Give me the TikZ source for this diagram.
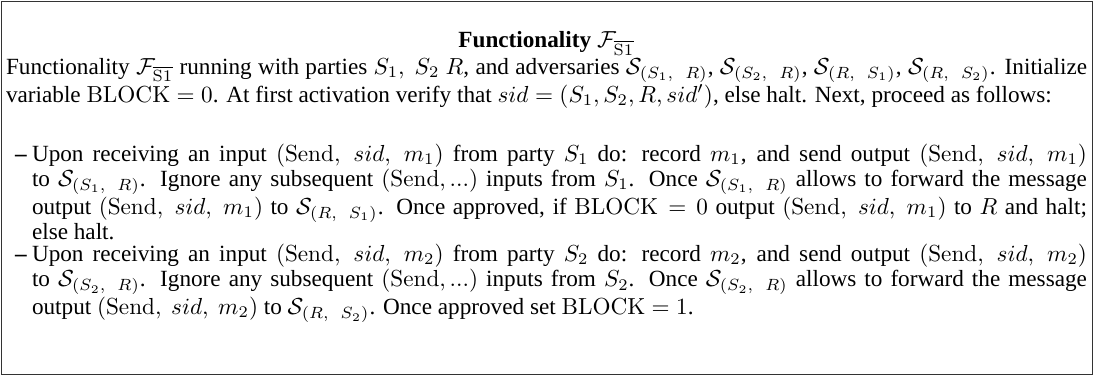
\documentclass[tikz,border=0pt]{standalone}
\usepackage[no-math]{fontspec}
\setmainfont{Liberation Serif}
\usetikzlibrary{positioning}

\tikzset{
  txt/.style={inner sep=0pt, outer sep=0pt, align=justify,
    font=\fontsize{10}{10.8}\selectfont},
  frame/.style={draw=black!80, line width=0.43pt, inner sep=0pt},
}
\newcommand{\Fsone}{\mathcal{F}_{\overline{\mathrm{S1}}}}
\newcommand{\msg}[1]{(\mathrm{Send},\ sid,\ #1)}
\newcommand{\Sadv}[2]{\mathcal{S}_{(#1,\ \,\,#2)}}

\begin{document}
\begin{tikzpicture}[x=1pt, y=1pt]
  \useasboundingbox (0,0) rectangle (471.1,-161.6);
  %nodes
  \node[frame, minimum width=470.2pt, minimum height=160.7pt, anchor=north west] at (0.45,-0.45) (box) {};
  \node[txt, anchor=base] at (235.5,-20.6) (title) {\textbf{Functionality} $\Fsone$};
  \node[txt, text width=466pt, anchor=base west] at (2.6,-32) (intro)
    {Functionality $\Fsone$ running with parties $S_1,\ S_2$ $R$, and adversaries $\Sadv{S_1}{R}$, $\Sadv{S_2}{R}$, $\Sadv{R}{S_1}$, $\Sadv{R}{S_2}$. Initialize variable $\mathrm{BLOCK}=0$. At first activation verify that $sid=(S_1,S_2,R,sid')$, else halt. Next, proceed as follows:};
  % list items
  \node[txt, anchor=base west] at (6.5,-69.5) (dashA) {\textbf{--}};
  \node[txt, text width=454.7pt, anchor=base west] at (13.8,-69.5) (itemA)
    {Upon receiving an input $\msg{m_1}$ from party $S_1$ do: record $m_1$, and send output $\msg{m_1}$ to~$\Sadv{S_1}{R}$. Ignore any subsequent $(\mathrm{Send},...)$ inputs from $S_1$. Once $\Sadv{S_1}{R}$ allows to forward the message output $\msg{m_1}$ to~$\Sadv{R}{S_1}$. Once approved, if $\mathrm{BLOCK}=0$ output $\msg{m_1}$ to $R$ and halt; else~halt.};
  \node[txt, anchor=base west] at (6.5,-112.7) (dashB) {\textbf{--}};
  \node[txt, text width=454.7pt, anchor=base west] at (13.8,-112.7) (itemB)
    {Upon receiving an input $\msg{m_2}$ from party $S_2$ do: record $m_2$, and send output $\msg{m_2}$ to~$\Sadv{S_2}{R}$. Ignore any subsequent $(\mathrm{Send},...)$ inputs from $S_2$. Once $\Sadv{S_2}{R}$ allows to forward the message output $\msg{m_2}$ to~$\Sadv{R}{S_2}$. Once approved set $\mathrm{BLOCK}=1$.};
\end{tikzpicture}
\end{document}
